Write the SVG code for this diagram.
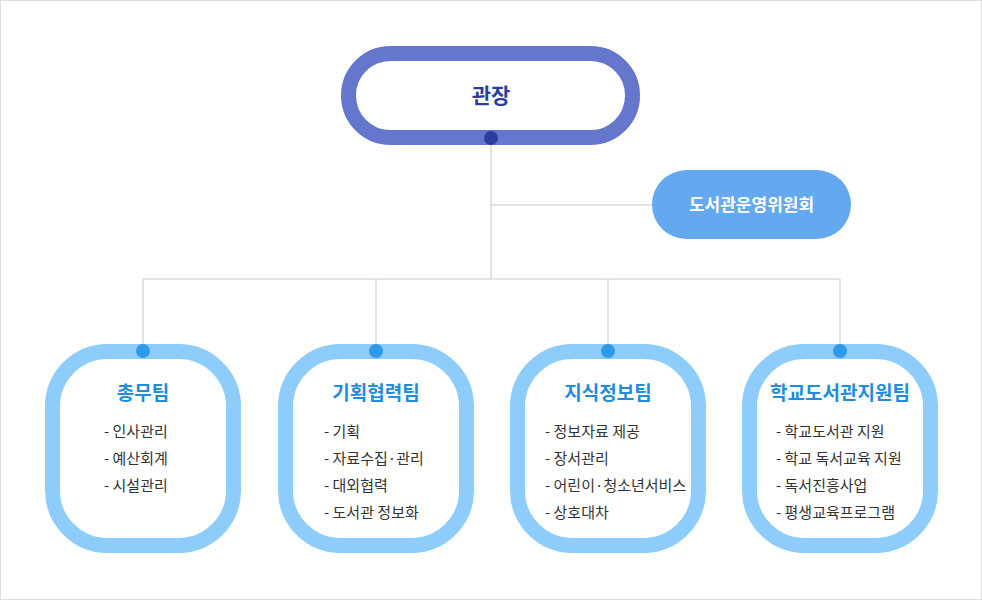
<svg xmlns="http://www.w3.org/2000/svg" width="982" height="600" viewBox="0 0 982 600">
<style>
text{font-family:"Noto Sans CJK KR","Noto Sans",sans-serif}
.team{fill:#fff;stroke:#8ecdfb;stroke-width:15}
.dot{fill:#2e9be8}
.title{font-size:19px;font-weight:bold;fill:#1f8ce0;text-anchor:middle}
.item{font-size:15px;fill:#333}
.ln{stroke:#c8c8c8;stroke-width:1;fill:none}
</style>
<rect x="0.5" y="0.5" width="981" height="599" fill="#fff" stroke="#ddd"/>
<g id="connectors">
<path class="ln" d="M491 145V279M491 205H652M143 279H840M143 279V351M376 279V351M608 279V351M840 279V351"/>
</g>
<g id="director">
<rect x="348.5" y="53.5" width="284" height="84" rx="42" fill="#fff" stroke="#6477cc" stroke-width="15"/>
<text x="491" y="103" font-size="21" font-weight="bold" fill="#2a3ea0" text-anchor="middle">관장</text>
<circle cx="491" cy="138" r="7" fill="#2a3ea0"/>
</g>
<g id="committee">
<rect x="652" y="170" width="199" height="69" rx="34.5" fill="#64a8f0"/>
<text x="751.5" y="211" font-size="17" font-weight="bold" fill="#fff" text-anchor="middle">도서관운영위원회</text>
</g>
<g id="team1">
<rect class="team" x="52.5" y="351.5" width="181" height="194" rx="55"/>
<circle class="dot" cx="143" cy="351" r="7"/>
<text class="title" x="143" y="400">총무팀</text>
<text class="item" x="104" y="437">- 인사관리</text>
<text class="item" x="104" y="464">- 예산회계</text>
<text class="item" x="104" y="491">- 시설관리</text>
</g>
<g id="team2">
<rect class="team" x="285.5" y="351.5" width="181" height="194" rx="55"/>
<circle class="dot" cx="376" cy="351" r="7"/>
<text class="title" x="376" y="400">기획협력팀</text>
<text class="item" x="324" y="437">- 기획</text>
<text class="item" x="324" y="464">- 자료수집·관리</text>
<text class="item" x="324" y="491">- 대외협력</text>
<text class="item" x="324" y="518">- 도서관 정보화</text>
</g>
<g id="team3">
<rect class="team" x="517.5" y="351.5" width="181" height="194" rx="55"/>
<circle class="dot" cx="608" cy="351" r="7"/>
<text class="title" x="608" y="400">지식정보팀</text>
<text class="item" x="545" y="437">- 정보자료 제공</text>
<text class="item" x="545" y="464">- 장서관리</text>
<text class="item" x="545" y="491">- 어린이·청소년서비스</text>
<text class="item" x="545" y="518">- 상호대차</text>
</g>
<g id="team4">
<rect class="team" x="749.5" y="351.5" width="181" height="194" rx="55"/>
<circle class="dot" cx="840" cy="351" r="7"/>
<text class="title" x="840" y="400">학교도서관지원팀</text>
<text class="item" x="776" y="437">- 학교도서관 지원</text>
<text class="item" x="776" y="464">- 학교 독서교육 지원</text>
<text class="item" x="776" y="491">- 독서진흥사업</text>
<text class="item" x="776" y="518">- 평생교육프로그램</text>
</g>
</svg>
